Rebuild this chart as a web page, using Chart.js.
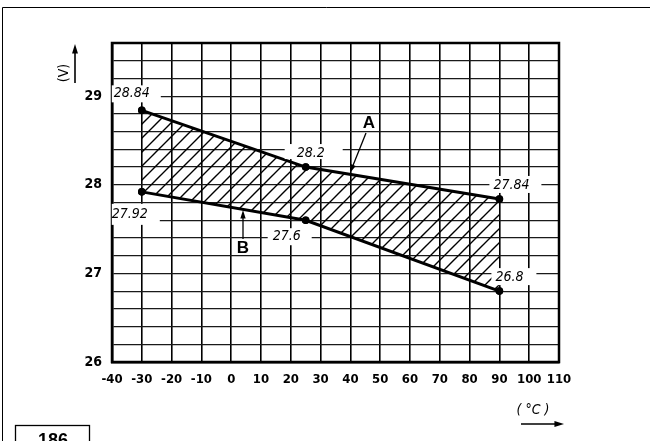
<!DOCTYPE html>
<html>
<head>
<meta charset="utf-8">
<script src="https://cdn.jsdelivr.net/npm/chart.js@4.4.1/dist/chart.umd.min.js"></script>
<style>
  html, body { margin: 0; padding: 0; background: #fff; }
  canvas { display: block; }
</style>
</head>
<body>
<canvas id="chart" width="650" height="441"></canvas>
<script>
// ===== Data =====
const temps = [-30, 25, 90];            // °C
const voltsA = [28.84, 28.2, 27.84];    // upper limit (A)
const voltsB = [27.92, 27.6, 26.8];     // lower limit (B)
const xRange = [-40, 110];
const yRange = [26, 29.6];
const yLabelled = [26, 27, 28, 29];

const NARROW = "'Liberation Sans Narrow', 'DejaVu Sans Condensed', 'Arial Narrow', sans-serif";

// value labels: offsets in px relative to the point, plus the white box that breaks the grid
const labelLayout = {
  A: [
    { dx: -28, dy: -17, box: [-30, 19, -25, -8] },
    { dx: -9, dy: -14, box: [-21, 37, -23, -8] },
    { dx: -6, dy: -14, box: [-10, 42, -23, -6] }
  ],
  B: [
    { dx: -30, dy: 22, box: [-30, 18, 12, 33] },
    { dx: -33, dy: 16, box: [-38, 6, 8, 25] },
    { dx: -4, dy: -14, box: [-8, 37, -23, -6] }
  ]
};

function makeHatch(ctx) {
  const s = 14;
  const c = document.createElement("canvas");
  c.width = s;
  c.height = s;
  const g = c.getContext("2d");
  g.strokeStyle = "#000";
  g.lineWidth = 1.4;
  g.beginPath();
  g.moveTo(0, s); g.lineTo(s, 0);
  g.moveTo(-s / 2, s / 2); g.lineTo(s / 2, -s / 2);
  g.moveTo(s / 2, s * 1.5); g.lineTo(s * 1.5, s / 2);
  g.stroke();
  return ctx.createPattern(c, "repeat");
}

function arrow(ctx, x1, y1, x2, y2, head) {
  const a = Math.atan2(y2 - y1, x2 - x1);
  ctx.beginPath();
  ctx.moveTo(x1, y1);
  ctx.lineTo(x2 - Math.cos(a) * head * 0.8, y2 - Math.sin(a) * head * 0.8);
  ctx.stroke();
  ctx.beginPath();
  ctx.moveTo(x2, y2);
  ctx.lineTo(x2 - Math.cos(a - 0.3) * head, y2 - Math.sin(a - 0.3) * head);
  ctx.lineTo(x2 - Math.cos(a + 0.3) * head, y2 - Math.sin(a + 0.3) * head);
  ctx.closePath();
  ctx.fill();
}

// plot frame drawn over the grid
const framePlugin = {
  id: "frame",
  beforeDatasetsDraw(chart) {
    const { ctx, chartArea: a } = chart;
    ctx.save();
    ctx.strokeStyle = "#000";
    ctx.lineWidth = 2.5;
    ctx.strokeRect(a.left, a.top, a.right - a.left, a.bottom - a.top);
    ctx.restore();
  }
};

// callouts, A/B pointers, axis titles, figure number
const notesPlugin = {
  id: "notes",
  afterDatasetsDraw(chart) {
    const ctx = chart.ctx;
    const xs = chart.scales.x;
    const ys = chart.scales.y;
    ctx.save();

    function callouts(values, layout) {
      values.forEach(function (v, i) {
        const px = xs.getPixelForValue(temps[i]);
        const py = ys.getPixelForValue(v);
        const L = layout[i];
        ctx.fillStyle = "#fff";
        ctx.fillRect(px + L.box[0], py + L.box[2], L.box[1] - L.box[0], L.box[3] - L.box[2]);
        ctx.fillStyle = "#000";
        ctx.font = "italic 14px " + NARROW;
        ctx.textAlign = "left";
        ctx.textBaseline = "middle";
        ctx.fillText(String(v), px + L.dx, py + L.dy);
      });
    }
    callouts(voltsA, labelLayout.A);
    callouts(voltsB, labelLayout.B);

    // redraw the points on top of the boxes
    ctx.fillStyle = "#000";
    [voltsA, voltsB].forEach(function (vals) {
      vals.forEach(function (v, i) {
        ctx.beginPath();
        ctx.arc(xs.getPixelForValue(temps[i]), ys.getPixelForValue(v), 3.8, 0, Math.PI * 2);
        ctx.fill();
      });
    });

    // A and B pointers
    ctx.strokeStyle = "#000";
    ctx.lineWidth = 1.3;
    ctx.font = "bold 17px 'Liberation Sans', Arial, sans-serif";
    ctx.textAlign = "center";
    ctx.textBaseline = "middle";
    ctx.fillText("A", 369, 123);
    arrow(ctx, 366, 133, 350, 173, 9);
    ctx.fillText("B", 243, 248);
    arrow(ctx, 243, 239, 243, 210, 9);

    // y axis title
    ctx.save();
    ctx.translate(64, 73);
    ctx.rotate(-Math.PI / 2);
    ctx.font = "14px " + NARROW;
    ctx.fillText("(V)", 0, 0);
    ctx.restore();
    ctx.lineWidth = 1.6;
    arrow(ctx, 75, 83, 75, 44, 10);

    // x axis title
    ctx.font = "italic 14px " + NARROW;
    ctx.fillText("( \u00B0C )", 533, 410);
    arrow(ctx, 521, 424, 564, 424, 10);

    // outer frame and figure number
    ctx.lineWidth = 1;
    ctx.beginPath();
    ctx.moveTo(2.5, 441);
    ctx.lineTo(2.5, 7.5);
    ctx.lineTo(650, 7.5);
    ctx.stroke();
    ctx.lineWidth = 1.3;
    ctx.strokeRect(15.5, 425.5, 74, 20);
    ctx.font = "bold 18px 'Liberation Sans', Arial, sans-serif";
    ctx.fillText("186", 53, 441);

    ctx.restore();
  }
};

document.addEventListener("DOMContentLoaded", function () {
  const canvas = document.getElementById("chart");
  const hatch = makeHatch(canvas.getContext("2d"));

  const config = {
    type: "line",
    data: {
      datasets: [
        {
          label: "A",
          data: temps.map((t, i) => ({ x: t, y: voltsA[i] })),
          borderColor: "#000",
          borderWidth: 3,
          pointRadius: 3.8,
          pointBackgroundColor: "#000",
          pointBorderWidth: 0,
          backgroundColor: hatch,
          fill: "+1",
          tension: 0
        },
        {
          label: "B",
          data: temps.map((t, i) => ({ x: t, y: voltsB[i] })),
          borderColor: "#000",
          borderWidth: 3,
          pointRadius: 3.8,
          pointBackgroundColor: "#000",
          pointBorderWidth: 0,
          fill: false,
          tension: 0
        }
      ]
    },
    options: {
      responsive: false,
      devicePixelRatio: 1,
      animation: false,
      layout: { padding: { left: 0, top: 43, right: 91, bottom: 0 } },
      plugins: {
        legend: { display: false },
        tooltip: { enabled: false }
      },
      scales: {
        x: {
          type: "linear",
          min: xRange[0],
          max: xRange[1],
          afterFit: function (scale) { scale.height = 79; },
          ticks: {
            stepSize: 10,
            autoSkip: false,
            maxRotation: 0,
            padding: 10,
            color: "#000",
            font: { family: NARROW, size: 13, weight: "bold" }
          },
          grid: { color: "#000", lineWidth: 1.6, drawTicks: false },
          border: { display: true, color: "#000", width: 2.5 }
        },
        y: {
          min: yRange[0],
          max: yRange[1],
          afterFit: function (scale) { scale.width = 112; },
          ticks: {
            stepSize: 0.2,
            autoSkip: false,
            padding: 10,
            color: "#000",
            font: { family: NARROW, size: 14, weight: "bold" },
            callback: function (value) {
              const hit = yLabelled.find((n) => Math.abs(n - value) < 1e-6);
              return hit === undefined ? "" : String(hit);
            }
          },
          grid: { color: "#1a1a1a", lineWidth: 1.2, drawTicks: false },
          border: { display: true, color: "#000", width: 2.5 }
        }
      }
    },
    plugins: [framePlugin, notesPlugin]
  };

  new Chart(canvas, config);
});
</script>
</body>
</html>
